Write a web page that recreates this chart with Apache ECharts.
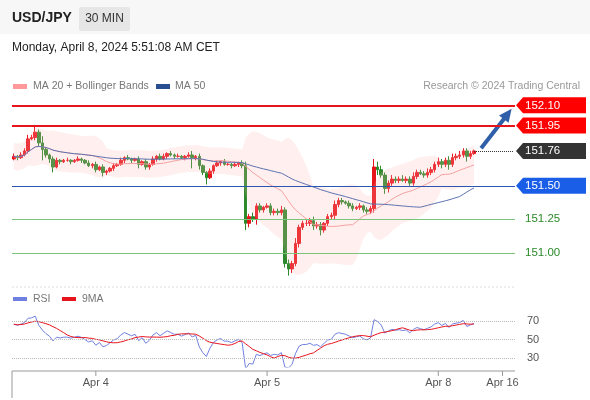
<!DOCTYPE html>
<html><head><meta charset="utf-8">
<script src="https://cdn.jsdelivr.net/npm/echarts@6/dist/echarts.min.js"></script>
<style>html,body{margin:0;padding:0;background:#fff}#c{width:590px;height:400px}</style>
</head><body><div id="c"></div>
<script>
var closes=[151.72,151.71,151.73,151.76,151.85,151.86,151.90,151.82,151.77,151.73,151.70,151.64,151.69,151.68,151.69,151.69,151.68,151.69,151.70,151.69,151.67,151.65,151.66,151.62,151.64,151.60,151.61,151.63,151.65,151.66,151.69,151.71,151.70,151.69,151.70,151.66,151.68,151.64,151.66,151.70,151.72,151.70,151.72,151.74,151.73,151.72,151.72,151.71,151.72,151.73,151.71,151.72,151.65,151.60,151.56,151.61,151.65,151.67,151.68,151.66,151.66,151.65,151.66,151.67,151.65,151.22,151.27,151.25,151.35,151.32,151.34,151.35,151.30,151.31,151.30,151.32,150.92,150.88,150.92,151.07,151.19,151.22,151.22,151.24,151.20,151.21,151.17,151.22,151.27,151.28,151.36,151.39,151.38,151.37,151.35,151.33,151.34,151.35,151.32,151.31,151.33,151.64,151.62,151.58,151.48,151.52,151.55,151.54,151.55,151.54,151.55,151.52,151.57,151.60,151.59,151.58,151.60,151.62,151.66,151.68,151.66,151.69,151.66,151.71,151.72,151.73,151.76,151.72,151.74,151.76];
var wickUp=[2,1,2,2,3,2,4,2,5,2,1,2,2,1,1,2,1,1,2,1,1,2,1,2,1,2,1,1,2,1,2,1,2,1,1,2,1,2,1,2,1,2,2,1,2,1,2,1,1,2,3,1,2,1,1,2,1,2,1,2,1,1,2,1,2,3,2,3,2,2,1,2,2,2,2,3,2,3,2,4,2,2,3,2,3,2,2,1,2,2,3,2,2,1,2,2,1,2,1,2,2,6,4,3,2,2,3,2,2,3,2,2,3,2,2,2,3,2,2,3,2,2,3,3,2,3,2,2,2,1];
var wickDn=[1,2,1,1,2,1,2,3,8,2,3,4,1,2,1,1,2,1,1,2,1,1,2,2,1,3,2,1,2,1,1,2,1,2,1,3,1,2,2,1,2,1,1,2,1,2,1,1,2,1,8,2,3,2,5,1,2,1,2,1,1,2,1,2,2,5,3,2,4,2,2,1,2,2,2,2,3,5,3,2,3,2,2,2,3,2,4,2,2,2,3,2,2,1,2,2,1,2,2,2,2,3,4,2,4,3,2,2,2,1,2,2,2,2,1,2,2,2,2,2,3,2,4,2,2,2,2,4,2,1];
var levelsRed=[152.10,151.95];
var levelBlue=151.50;
var levelsGreen=[151.25,151.00];
var lastPrice=151.76;
var dateLabels={23:'Apr 4',71:'Apr 5',119:'Apr 8',137:'Apr 16'};
var totalSlots=141;

var cats=[],ohlc=[];
for(var i=0;i<totalSlots;i++)cats.push(String(i));
for(var i=0;i<closes.length;i++){
  var o=i?closes[i-1]:151.70,c=closes[i];
  ohlc.push([o,c,Math.min(o,c)-wickDn[i]/100,Math.max(o,c)+wickUp[i]/100]);
}
function sma(arr,n,i){var s=0,k=0;for(var j=Math.max(0,i-n+1);j<=i;j++){if(arr[j]==null)continue;s+=arr[j];k++;}return k?s/k:null;}
var ma20=[],ma50=[],bbLow=[],bbDiff=[];
for(var i=0;i<closes.length;i++){
  var m=sma(closes,20,i);ma20.push(+m.toFixed(4));ma50.push(+sma(closes,50,i).toFixed(4));
  var s=0,k=0;for(var j=Math.max(0,i-19);j<=i;j++){s+=(closes[j]-m)*(closes[j]-m);k++;}
  var sd=Math.sqrt(s/k);sd=Math.max(sd,0.05);
  bbLow.push(m-2*sd);bbDiff.push(4*sd);
}
// RSI 14 (Wilder), seeded
var rsi=[],ag=0.03,al=0.015;
for(var i=0;i<closes.length;i++){
  if(i>0){var d=closes[i]-closes[i-1];ag=(ag*13+Math.max(d,0))/14;al=(al*13+Math.max(-d,0))/14;}
  rsi.push(100-100/(1+ag/al));
}
var rsi9=rsi.map(function(v,i){return sma(rsi,9,i);});

var chart=echarts.init(document.getElementById('c'));
var F='Arial, Liberation Sans, sans-serif';
function hl(v,col,w){return {yAxis:v,lineStyle:{color:col,width:w,type:'solid'}};}
chart.setOption({
  animation:false,
  textStyle:{fontFamily:F},
  grid:[{left:12,right:75,top:100,bottom:115},{left:12,right:75,top:312,height:55}],
  xAxis:[
    {type:'category',data:cats,gridIndex:0,show:false,boundaryGap:true},
    {type:'category',data:cats,gridIndex:1,boundaryGap:true,
     axisLine:{show:false},axisTick:{show:false},
     axisLabel:{interval:function(i){return !!dateLabels[i];},formatter:function(v){return dateLabels[v]||'';},color:'#555',fontSize:11,margin:10}}
  ],
  yAxis:[
    {gridIndex:0,min:150.76,max:152.14,show:false,scale:true},
    {gridIndex:1,min:20,max:80,interval:10,position:'right',axisLine:{show:false},axisTick:{show:false},
     splitLine:{show:false},
     axisLabel:{color:'#555',fontSize:11,margin:12,formatter:function(v){return (v==30||v==50||v==70)?v:'';}}}
  ],
  series:[
    {type:'line',data:bbLow,stack:'bb',symbol:'none',lineStyle:{opacity:0},silent:true},
    {type:'line',data:bbDiff,stack:'bb',symbol:'none',lineStyle:{opacity:0},areaStyle:{color:'rgba(255,180,180,0.3)'},silent:true},
    {type:'line',data:ma20,symbol:'none',lineStyle:{color:'#f4a0a0',width:1}},
    {type:'line',data:ma50,symbol:'none',lineStyle:{color:'#5b72b0',width:1}},
    {type:'candlestick',data:ohlc,barWidth:3,
     itemStyle:{color:'#e8141c',color0:'#2c8a2c',borderColor:'#e8141c',borderColor0:'#2c8a2c',borderWidth:1},
     markLine:{symbol:'none',silent:true,label:{show:false},
       data:[hl(levelsRed[0],'#e8141c',2),hl(levelsRed[1],'#e8141c',2),hl(levelBlue,'#2a56b0',1),hl(levelsGreen[0],'#7cc47c',1),hl(levelsGreen[1],'#7cc47c',1),
       [{coord:[String(closes.length-1),lastPrice],lineStyle:{color:'#333',type:'dotted',width:1}},{coord:[String(totalSlots-1),lastPrice]}]]}},
    {type:'line',xAxisIndex:1,yAxisIndex:1,data:rsi,symbol:'none',lineStyle:{color:'#7080e0',width:1},
     markLine:{symbol:'none',silent:true,label:{show:false},lineStyle:{color:'#bbb',type:'dotted',width:1},data:[{yAxis:70},{yAxis:50},{yAxis:30}]}},
    {type:'line',xAxisIndex:1,yAxisIndex:1,data:rsi9,symbol:'none',lineStyle:{color:'#e8141c',width:1}}
  ]
});
function py(v){return chart.convertToPixel({yAxisIndex:0},v);}
function px(i){return chart.convertToPixel({xAxisIndex:0},String(i));}
var g=[
  {type:'rect',shape:{x:0,y:0,width:590,height:34},style:{fill:'#f7f7f7'}},
  {type:'text',left:12,top:11,style:{text:'USD/JPY',font:'bold 14px '+F,fill:'#222'}},
  {type:'rect',shape:{x:79,y:7,width:51,height:24,r:2},style:{fill:'#e6e6e6'}},
  {type:'text',x:104.5,y:19,style:{text:'30 MIN',font:'12px '+F,fill:'#333',align:'center',verticalAlign:'middle'}},
  {type:'text',left:12,top:42,style:{text:'Monday, April 8, 2024 5:51:08 AM CET',font:'12px '+F,fill:'#222'}},
  {type:'rect',shape:{x:13,y:84,width:14,height:5},style:{fill:'#f99'}},
  {type:'text',x:33,y:86,style:{text:'MA 20 + Bollinger Bands',font:'10.5px '+F,fill:'#777',verticalAlign:'middle'}},
  {type:'rect',shape:{x:156,y:84,width:14,height:5},style:{fill:'#2a4f90'}},
  {type:'text',x:175,y:86,style:{text:'MA 50',font:'10.5px '+F,fill:'#777',verticalAlign:'middle'}},
  {type:'text',x:580,y:86,style:{text:'Research © 2024 Trading Central',font:'10.5px '+F,fill:'#999',align:'right',verticalAlign:'middle'}},
  {type:'rect',shape:{x:13,y:297,width:14,height:4},style:{fill:'#7080e0'}},
  {type:'text',x:33,y:299,style:{text:'RSI',font:'10.5px '+F,fill:'#777',verticalAlign:'middle'}},
  {type:'rect',shape:{x:62,y:297,width:14,height:4},style:{fill:'#e8141c'}},
  {type:'text',x:82,y:299,style:{text:'9MA',font:'10.5px '+F,fill:'#777',verticalAlign:'middle'}},
  {type:'line',shape:{x1:12,y1:287,x2:515,y2:287},style:{stroke:'#ddd',lineDash:[2,2]}},
  {type:'line',shape:{x1:12,y1:371,x2:515,y2:371},style:{stroke:'#999'}},
  {type:'line',shape:{x1:12,y1:371,x2:12,y2:398},style:{stroke:'#999'}}
];
Object.keys(dateLabels).forEach(function(k){var x=px(k);g.push({type:'line',shape:{x1:x,y1:371,x2:x,y2:376},style:{stroke:'#999'}});});
function tag(v,bg,fg,boxed){
  var y=py(v);
  if(boxed){g.push({type:'polygon',shape:{points:[[516,y],[523,y-8],[586,y-8],[586,y+8],[523,y+8]]},style:{fill:bg}});}
  g.push({type:'text',x:525,y:y,style:{text:v.toFixed(2),font:'11.5px '+F,fill:fg,verticalAlign:'middle'}});
}
tag(levelsRed[0],'#f00','#fff',true);tag(levelsRed[1],'#f00','#fff',true);
tag(lastPrice,'#333','#fff',true);tag(levelBlue,'#1a5ee8','#fff',true);
tag(levelsGreen[0],null,'#2a8a2a',false);tag(levelsGreen[1],null,'#2a8a2a',false);
var ax1=px(closes.length+1),ay1=py(151.78),ax2=px(closes.length+9),ay2=py(152.06);
g.push({type:'line',shape:{x1:ax1,y1:ay1,x2:ax2-4,y2:ay2+6},style:{stroke:'#2f5fa8',lineWidth:4}});
var ang=Math.atan2(ay2-ay1,ax2-ax1),L=13,W=6;
g.push({type:'polygon',shape:{points:[[ax2+2,ay2-2],[ax2+2-L*Math.cos(ang)-W*Math.sin(ang),ay2-2-L*Math.sin(ang)+W*Math.cos(ang)],[ax2+2-L*Math.cos(ang)+W*Math.sin(ang),ay2-2-L*Math.sin(ang)-W*Math.cos(ang)]]},style:{fill:'#2f5fa8'}});
chart.setOption({graphic:g});
</script></body></html>
